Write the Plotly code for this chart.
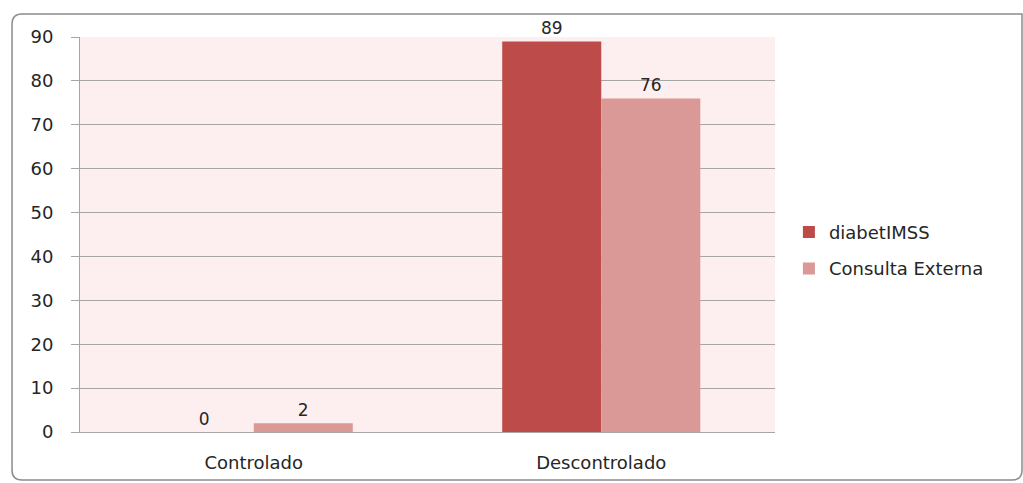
import plotly.graph_objects as go

categories = ["Controlado", "Descontrolado"]
diabetimss = [0, 89]
consulta_externa = [2, 76]
y_ticks = [0, 10, 20, 30, 40, 50, 60, 70, 80, 90]

FAM = "DejaVu Sans, Verdana, sans-serif"
TXT = "#262626"
FS = 18

fig = go.Figure()
fig.add_trace(go.Bar(
    x=categories, y=diabetimss, name="diabetIMSS", legendgroup="a",
    marker=dict(color="#BC4B49", line=dict(width=0)),
    texttemplate="%{y}", textposition="outside",
    textfont=dict(family=FAM, size=17, color=TXT), cliponaxis=False,
))
fig.add_trace(go.Bar(
    x=categories, y=consulta_externa, name="Consulta Externa", legendgroup="b",
    marker=dict(color="#DA9896", line=dict(width=0)),
    texttemplate="%{y}", textposition="outside",
    textfont=dict(family=FAM, size=17, color=TXT), cliponaxis=False,
))

# rounded outer border (paper coords)
x0, x1, y0, y1 = -0.0978, 1.3554, -0.1215, 1.058
rx, ry = 0.0144, 0.0253
path = (f"M {x0+rx},{y1} L {x1},{y1} L {x1},{y0+ry} Q {x1},{y0} {x1-rx},{y0} "
        f"L {x0+rx},{y0} Q {x0},{y0} {x0},{y0+ry} L {x0},{y1-ry} Q {x0},{y1} {x0+rx},{y1} Z")

fig.update_layout(
    width=1023, height=483,
    margin=dict(l=80, r=248, t=37, b=51),
    paper_bgcolor="white",
    plot_bgcolor="#FDEFEF",
    font=dict(family=FAM, size=FS, color=TXT),
    barmode="group",
    bargap=0.43,
    bargroupgap=0,
    showlegend=True,
    legend=dict(x=1.02, y=0.46, xanchor="left", yanchor="middle",
                font=dict(family=FAM, size=FS, color=TXT), tracegroupgap=10,
                itemwidth=30, bgcolor="rgba(0,0,0,0)"),
    shapes=[dict(type="path", xref="paper", yref="paper", path=path,
                 line=dict(color="#8C8C8C", width=1.5), layer="below")],
)
fig.update_yaxes(
    range=[0, 90], tickvals=y_ticks, showgrid=True, gridcolor="#A6A6A6", gridwidth=1,
    showline=True, linecolor="#A6A6A6", ticks="outside", ticklen=8, tickcolor="#A6A6A6",
    zeroline=False, tickfont=dict(family=FAM, size=FS, color=TXT), ticklabelstandoff=14,
    automargin=False,
)
fig.update_xaxes(
    showline=True, linecolor="#A6A6A6", ticks="", showgrid=False,
    tickfont=dict(family=FAM, size=FS, color=TXT), ticklabelstandoff=14,
    automargin=False,
)

fig.write_html("out.html")
